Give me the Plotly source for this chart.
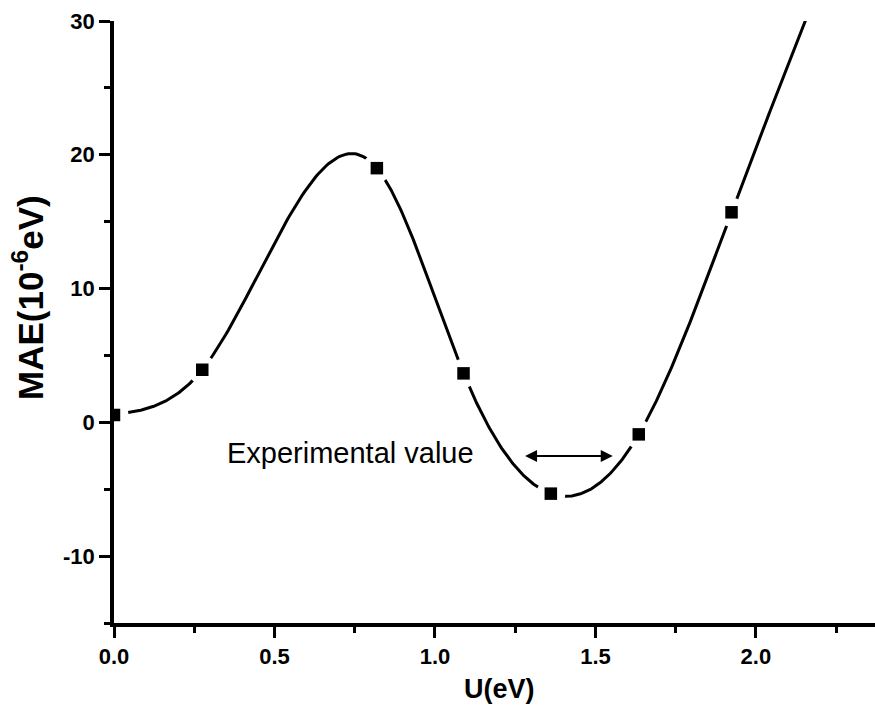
import numpy as np
import plotly.graph_objects as go

# ---- data ----
u_values = [0.0, 0.275, 0.819, 1.089, 1.361, 1.635, 1.924, 2.196]   # U (eV); last point lies above the y-range
mae_values = [0.55, 3.93, 19.0, 3.66, -5.33, -0.90, 15.7, 32.6]     # MAE (1e-6 eV)

x_ticks = [0.0, 0.5, 1.0, 1.5, 2.0]
x_tick_labels = ["0.0", "0.5", "1.0", "1.5", "2.0"]
y_ticks = [-10, 0, 10, 20, 30]
y_tick_labels = ["-10", "0", "10", "20", "30"]

arrow_span = [1.276, 1.554]
arrow_level = -2.52
note_text = "Experimental value"
note_pos = [0.736, -2.29]


def natural_spline(xs, ys, per_seg=80):
    xs = np.asarray(xs, float)
    ys = np.asarray(ys, float)
    n = len(xs)
    h = np.diff(xs)
    A = np.zeros((n, n))
    b = np.zeros(n)
    A[0, 0] = A[-1, -1] = 1.0
    for i in range(1, n - 1):
        A[i, i - 1] = h[i - 1]
        A[i, i] = 2 * (h[i - 1] + h[i])
        A[i, i + 1] = h[i]
        b[i] = 6 * ((ys[i + 1] - ys[i]) / h[i] - (ys[i] - ys[i - 1]) / h[i - 1])
    M = np.linalg.solve(A, b)
    cx, cy = [], []
    for i in range(n - 1):
        t = np.linspace(xs[i], xs[i + 1], per_seg, endpoint=(i == n - 2))
        hi = h[i]
        s = (M[i] * (xs[i + 1] - t) ** 3 / (6 * hi)
             + M[i + 1] * (t - xs[i]) ** 3 / (6 * hi)
             + (ys[i] / hi - M[i] * hi / 6) * (xs[i + 1] - t)
             + (ys[i + 1] / hi - M[i + 1] * hi / 6) * (t - xs[i]))
        cx.extend(t.tolist())
        cy.extend(s.tolist())
    return cx, cy


curve_x, curve_y = natural_spline(u_values, mae_values)

FONT = "Liberation Sans, Arial, Helvetica, sans-serif"

fig = go.Figure()
fig.add_trace(go.Scatter(x=curve_x, y=curve_y, mode="lines",
                         line=dict(color="black", width=3), hoverinfo="skip"))
# white halo to create Origin-style gaps around symbols
fig.add_trace(go.Scatter(x=u_values, y=mae_values, mode="markers",
                         marker=dict(symbol="circle", size=29, color="white",
                                     line=dict(width=0)), hoverinfo="skip"))
fig.add_trace(go.Scatter(x=u_values, y=mae_values, mode="markers",
                         marker=dict(symbol="square", size=12.5, color="black",
                                     line=dict(width=0)), hoverinfo="skip"))

fig.add_annotation(x=arrow_span[1], y=arrow_level, ax=arrow_span[0], ay=arrow_level,
                   xref="x", yref="y", axref="x", ayref="y", text="",
                   showarrow=True, arrowhead=2, arrowside="end+start",
                   arrowsize=1.2, arrowwidth=2, arrowcolor="black",
                   standoff=0, startstandoff=0)
fig.add_annotation(x=note_pos[0], y=note_pos[1], xref="x", yref="y",
                   text=note_text, showarrow=False, xanchor="center", yanchor="middle",
                   font=dict(family=FONT, size=29, color="black"))

fig.add_annotation(x=0.507, y=-0.109, xref="paper", yref="paper",
                   text="U(eV)", showarrow=False, xanchor="center", yanchor="middle",
                   font=dict(family=FONT, size=27, color="black", weight="bold"))
fig.add_annotation(x=-0.113, y=0.540, xref="paper", yref="paper",
                   text="MAE(10<sup>-6</sup>eV)", showarrow=False, textangle=-90,
                   xanchor="center", yanchor="middle",
                   font=dict(family=FONT, size=35, color="black", weight="bold"))

axis_common = dict(showline=True, linecolor="black", linewidth=3.5, mirror=False,
                   showgrid=False, zeroline=False, ticks="outside", ticklen=11,
                   tickwidth=3, tickcolor="black",
                   tickfont=dict(family=FONT, size=22, color="black", weight="bold"))

fig.update_xaxes(range=[0, 2.371], tickvals=x_ticks, ticktext=x_tick_labels,
                 minor=dict(ticks="outside", ticklen=6, tickwidth=3, tickcolor="black",
                            tick0=0, dtick=0.25),
                 **axis_common)
fig.update_yaxes(range=[-15, 30], tickvals=y_ticks, ticktext=y_tick_labels,
                 minor=dict(ticks="outside", ticklen=6, tickwidth=3, tickcolor="black",
                            tick0=0, dtick=5),
                 **axis_common)

fig.update_layout(width=875, height=715, showlegend=False,
                  margin=dict(l=114, r=0, t=21, b=91.5, pad=0),
                  plot_bgcolor="white", paper_bgcolor="white")

fig.write_html("out.html")
